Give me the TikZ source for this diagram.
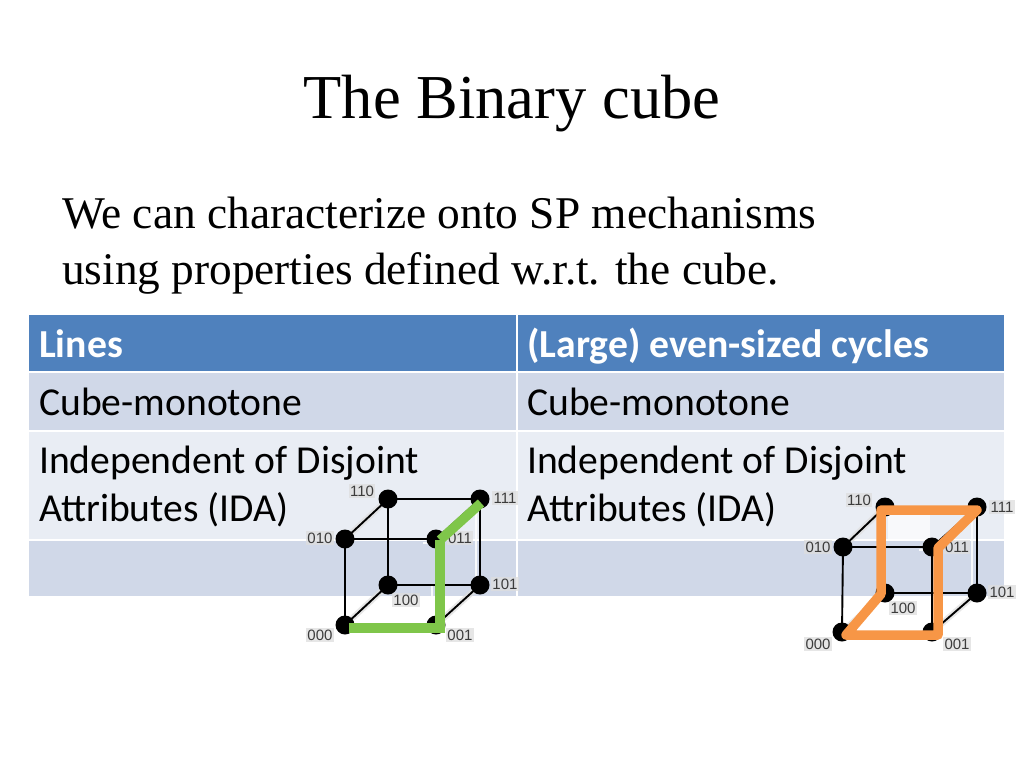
\documentclass[tikz,border=0pt]{standalone}
\usepackage{fontspec}
\setmainfont{Liberation Serif}
\newfontfamily\tablefont{Carlito}
\newfontfamily\labelfont{Liberation Sans}
\definecolor{headblue}{HTML}{4F81BD}
\definecolor{rowdark}{HTML}{D0D8E8}
\definecolor{rowlight}{HTML}{E9EDF4}
\definecolor{greenpath}{HTML}{7FC64A}
\definecolor{orangepath}{HTML}{F79646}
\definecolor{labelgray}{HTML}{3C3C3C}
\definecolor{speckle}{HTML}{DEDEDE}
\tikzset{
  x=1pt,y=-1pt,
  celltext/.style={anchor=base west,inner sep=0pt,font=\tablefont\fontsize{39.6}{48}\selectfont,text=black},
  headtext/.style={celltext,text=white,font=\tablefont\bfseries\fontsize{39.7}{48}\selectfont},
  vertexdot/.style={circle,fill=black,minimum size=19pt,inner sep=0pt,outer sep=0pt},
  cubeedge/.style={draw=black,line width=1.9pt},
  speckleband/.style={draw=speckle,line width=6pt,opacity=.7},
  artefact/.style={draw=white,line width=1.3pt,opacity=.85},
  vlabel/.style={font=\labelfont\fontsize{15}{15}\selectfont,text=labelgray,fill=speckle,fill opacity=.75,text opacity=1,inner sep=1.5pt},
  greenline/.style={draw=greenpath,line width=9.5pt,line join=miter},
  orangeline/.style={draw=orangepath,line width=9.5pt,line join=round},
}
\begin{document}
\begin{tikzpicture}
\useasboundingbox (0,0) rectangle (1024,768);
\fill[white] (0,0) rectangle (1024,768);
% table
\fill[headblue] (29,315) rectangle (515.5,371);
\fill[headblue] (517.5,315) rectangle (1004,371);
\fill[rowdark] (29,373) rectangle (515.5,430);
\fill[rowdark] (517.5,373) rectangle (1004,430);
\fill[rowlight] (29,432) rectangle (515.5,539);
\fill[rowlight] (517.5,432) rectangle (1004,539);
\fill[rowdark] (29,541) rectangle (515.5,596);
\fill[rowdark] (517.5,541) rectangle (1004,596);
% texts
\node[anchor=base,inner sep=0pt,font=\fontsize{62.5}{62.5}\selectfont] (title) at (512,118) {The Binary cube};
\node[anchor=base west,inner sep=0pt,font=\fontsize{45.4}{45.4}\selectfont] (line1) at (62,228) {We can characterize onto SP mechanisms};
\node[anchor=base west,inner sep=0pt,font=\fontsize{45.3}{45.3}\selectfont] (line2) at (62,284) {using properties defined w.r.t. the cube.};
\node[headtext] (h1) at (39,357) {Lines};
\node[headtext] (h2) at (527,357) {(Large) even-sized cycles};
\node[celltext] (a1) at (39,415) {Cube-monotone};
\node[celltext] (a2) at (527,415) {Cube-monotone};
\node[celltext] (b1) at (39,473) {Independent of Disjoint};
\node[celltext] (b1b) at (39,521) {Attributes (IDA)};
\node[celltext] (b2) at (527,473) {Independent of Disjoint};
\node[celltext] (b2b) at (527,521) {Attributes (IDA)};
% left cube
\coordinate (La) at (388,499);
\coordinate (Lb) at (480,499);
\coordinate (Lc) at (345,539);
\coordinate (Ld) at (436,539);
\coordinate (Le) at (388,585);
\coordinate (Lf) at (480,585);
\coordinate (Lg) at (345,625);
\coordinate (Lh) at (436,625);
\draw[speckleband] (La)--(Lc) (Le)--(Lg) (Lf)--(Lh);
\draw[artefact] (432,586)--(432,618) (350,621)--(430,621) (476,508)--(476,578) (423,543)--(430,543);
\node[vlabel] at (362,491) {110};
\node[vlabel] at (505,498) {111};
\node[vlabel] at (320,538) {010};
\node[vlabel] at (460,538) {011};
\node[vlabel] at (406,600) {100};
\node[vlabel] at (505,584) {101};
\node[vlabel] at (320,635) {000};
\node[vlabel] at (460,635) {001};
\draw[cubeedge] (La)--(Lb) (Lc)--(Ld) (Le)--(Lf) (Lg)--(Lh) (La)--(Lc) (Lb)--(Ld) (Le)--(Lg) (Lf)--(Lh) (La)--(Le) (Lb)--(Lf) (Lc)--(Lg) (Ld)--(Lh);
\node[vertexdot] (Ldot1) at (La) {};
\node[vertexdot] (Ldot2) at (Lb) {};
\node[vertexdot] (Ldot3) at (Lc) {};
\node[vertexdot] (Ldot4) at (Ld) {};
\node[vertexdot] (Ldot5) at (Le) {};
\node[vertexdot] (Ldot6) at (Lf) {};
\node[vertexdot] (Ldot7) at (Lg) {};
\node[vertexdot] (Ldot8) at (Lh) {};
\coordinate (Gstart) at (349,628);
\coordinate (Gcorner) at (440,628);
\coordinate (Gbend) at (440,540);
\coordinate (Gend) at (481,503);
\draw[greenline] (Gstart)--(Gcorner)--(Gbend);
\draw[greenline] (Gbend)--(Gend);
% right cube
\coordinate (Ra) at (885,507);
\coordinate (Rb) at (977,507);
\coordinate (Rc) at (843,547);
\coordinate (Rd) at (932,547);
\coordinate (Re) at (885,593);
\coordinate (Rf) at (977,593);
\coordinate (Rg) at (842,632);
\coordinate (Rh) at (932,632);
\fill[white,opacity=.7] (888,514) rectangle (930,539);
\draw[speckleband] (Ra)--(Rc) (Re)--(Rg) (Rf)--(Rh);
\draw[artefact] (930,600)--(930,625) (850,628)--(925,628) (972,516)--(972,585) (919,550)--(926,550);
\node[vlabel] at (859,500) {110};
\node[vlabel] at (1002,507) {111};
\node[vlabel] at (818,547) {010};
\node[vlabel] at (957,547) {011};
\node[vlabel] at (903,608) {100};
\node[vlabel] at (1002,592) {101};
\node[vlabel] at (818,644) {000};
\node[vlabel] at (957,644) {001};
\draw[cubeedge] (Ra)--(Rb) (Rc)--(Rd) (Re)--(Rf) (Rg)--(Rh) (Ra)--(Rc) (Rb)--(Rd) (Re)--(Rg) (Rf)--(Rh) (Ra)--(Re) (Rb)--(Rf) (Rc)--(Rg) (Rd)--(Rh);
\node[vertexdot] (Rdot1) at (Ra) {};
\node[vertexdot] (Rdot2) at (Rb) {};
\node[vertexdot] (Rdot3) at (Rc) {};
\node[vertexdot] (Rdot4) at (Rd) {};
\node[vertexdot] (Rdot5) at (Re) {};
\node[vertexdot] (Rdot6) at (Rf) {};
\node[vertexdot] (Rdot7) at (Rg) {};
\node[vertexdot] (Rdot8) at (Rh) {};
\coordinate (O1) at (846,635);
\coordinate (O2) at (881,594);
\coordinate (O3) at (881,510);
\coordinate (O4) at (977,510);
\coordinate (O5) at (938,548);
\coordinate (O6) at (938,635);
\draw[orangeline] (O1)--(O2)--(O3)--(O4)--(O5)--(O6)--cycle;
\end{tikzpicture}
\end{document}
